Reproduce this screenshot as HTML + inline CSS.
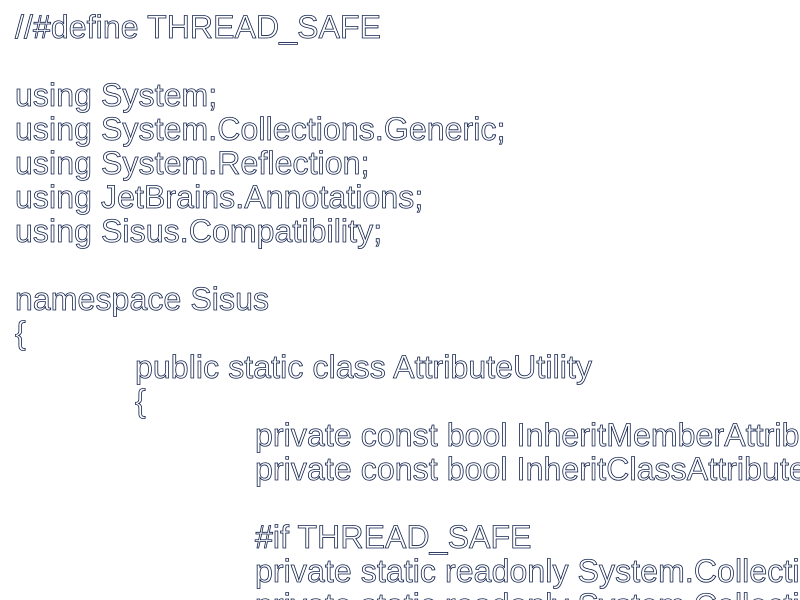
<!DOCTYPE html>
<html><head><meta charset="utf-8"><style>
html,body{margin:0;padding:0;background:#fff;width:800px;height:600px;overflow:hidden;position:relative}
.wrap{position:absolute;left:0;top:0;width:800px;height:600px;overflow:hidden}
pre{position:absolute;left:15px;top:10px;margin:0;font-family:"Liberation Sans",sans-serif;font-size:32px;letter-spacing:0.1px;line-height:34px;color:#fff;-webkit-text-stroke:0.8px #10204a;white-space:pre}
.i1{padding-left:120px}.i2{padding-left:240px}
</style></head><body><div class="wrap">
<pre>//#define THREAD_SAFE

using System;
using System.Collections.Generic;
using System.Reflection;
using JetBrains.Annotations;
using Sisus.Compatibility;

namespace Sisus
{
<span class="i1">public static class AttributeUtility</span>
<span class="i1">{</span>
<span class="i2">private const bool InheritMemberAttributes = true;</span>
<span class="i2">private const bool InheritClassAttributes = true;</span>

<span class="i2">#if THREAD_SAFE</span>
<span class="i2">private static readonly System.Collections.Generic.Dictionary</span>
<span class="i2">private static readonly System.Collections.Generic.Dictionary</span>
</pre>
</div></body></html>
